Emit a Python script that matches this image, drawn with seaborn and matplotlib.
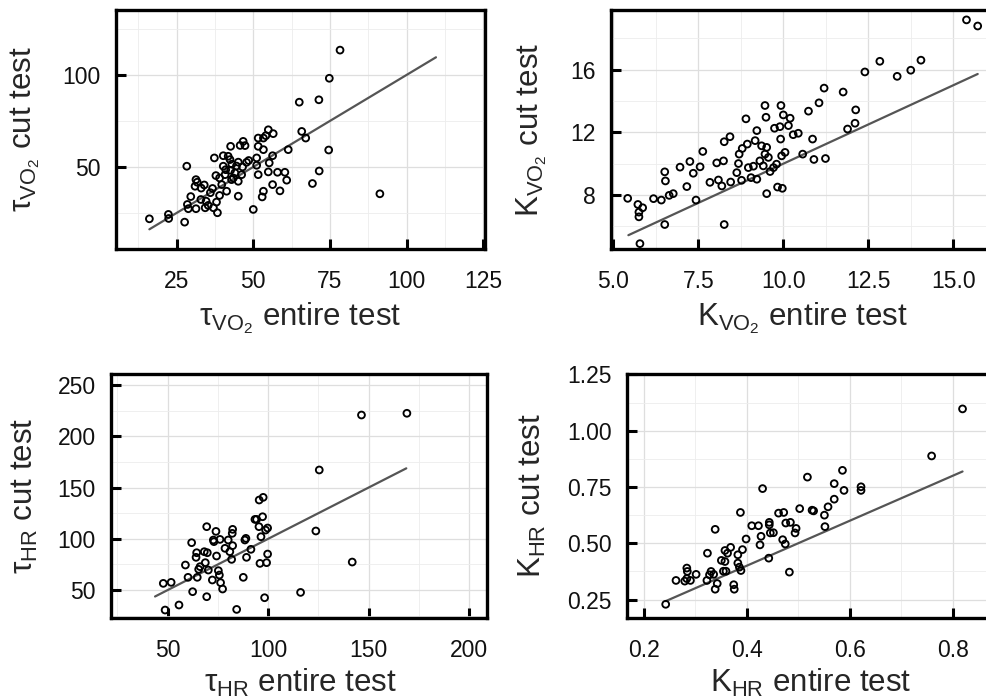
import matplotlib
matplotlib.use('Agg')
import matplotlib.pyplot as plt
import seaborn as sns
from matplotlib.ticker import MultipleLocator, FormatStrFormatter

# tau VO2 (s): entire test vs cut test
tau_vo2_entire = [16.1, 22.3, 22.4, 27.6, 28.3, 28.5, 28.8, 29.6, 31.3, 31.3,
                  31.7, 31.0, 34.0, 32.9, 34.6, 34.3, 35.3, 37.0, 38.0, 38.3,
                  36.7, 37.3, 37.8, 39.0, 39.7, 40.2, 40.2, 40.8, 41.3, 41.8,
                  42.4, 42.6, 42.6, 42.9, 44.0, 45.1, 45.1, 45.1, 45.7, 46.2,
                  46.5, 46.7, 47.3, 47.8, 50.0, 51.1, 51.6, 51.6, 51.6, 51.1,
                  53.3, 53.3, 53.3, 52.9, 54.1, 54.9, 55.2, 54.9, 56.3, 56.5,
                  56.3, 57.9, 58.7, 60.3, 60.9, 61.4, 65.0, 65.8, 67.1, 69.3,
                  71.4, 71.5, 74.6, 74.8, 78.3, 91.3, 41.0, 43.5, 44.5, 39.0,
                  48.5, 36.0, 33.0, 43.0]
tau_vo2_cut = [21.8, 24.2, 22.0, 20.0, 50.4, 29.6, 27.3, 33.9, 27.3, 43.1,
               41.7, 39.5, 40.2, 32.3, 31.4, 27.8, 29.1, 27.8, 30.9, 25.1,
               38.3, 54.9, 45.3, 34.5, 40.4, 56.1, 50.4, 45.8, 36.8, 55.8,
               54.0, 61.2, 48.2, 43.1, 46.8, 52.6, 34.1, 42.2, 61.7, 45.8,
               50.0, 63.9, 61.6, 52.5, 26.9, 54.9, 65.7, 61.2, 45.8, 50.9,
               59.4, 65.7, 36.8, 33.7, 67.0, 70.2, 52.2, 47.3, 56.1, 68.1,
               40.4, 47.1, 37.0, 47.1, 42.8, 59.4, 85.2, 69.3, 65.7, 41.0,
               86.5, 47.8, 59.2, 98.2, 113.5, 35.4, 48.5, 44.0, 50.5, 44.0,
               53.5, 36.0, 38.5, 51.5]
tau_vo2_line = [16.1, 109.6]

# K VO2: entire test vs cut test
k_vo2_entire = [5.42, 5.72, 5.75, 5.86, 5.75, 5.78, 6.18, 6.41, 6.51, 6.53,
                6.51, 6.64, 6.76, 6.96, 7.16, 7.25, 7.35, 7.43, 7.55, 7.63,
                7.84, 8.04, 8.09, 8.19, 8.24, 8.26, 8.26, 8.43, 8.45, 8.63,
                8.68, 8.70, 8.77, 8.79, 8.90, 8.94, 8.97, 9.05, 9.12, 9.17,
                9.22, 9.22, 9.31, 9.36, 9.41, 9.46, 9.49, 9.46, 9.51, 9.51,
                9.56, 9.61, 9.71, 9.74, 9.80, 9.83, 9.90, 9.93, 9.92, 9.97,
                9.95, 10.00, 10.05, 10.15, 10.20, 10.29, 10.44, 10.57, 10.74, 10.86,
                10.90, 11.05, 11.20, 11.24, 11.76, 11.89, 12.11, 12.13, 12.40, 12.84,
                13.35, 13.75, 14.05, 15.39, 15.72]
k_vo2_cut = [7.79, 7.40, 6.91, 7.19, 6.61, 4.90, 7.77, 7.68, 6.12, 8.90,
             9.48, 7.98, 8.09, 9.78, 8.54, 10.14, 9.39, 7.68, 9.80, 10.78,
             8.81, 10.05, 8.96, 8.58, 10.18, 6.12, 11.40, 11.72, 8.83, 9.43,
             10.01, 10.61, 8.94, 10.97, 12.86, 11.25, 9.75, 9.11, 9.84, 11.47,
             12.11, 9.01, 10.18, 11.14, 9.86, 13.71, 12.96, 10.61, 11.04, 8.09,
             10.40, 9.50, 9.75, 12.26, 9.97, 8.51, 12.36, 13.71, 11.57, 8.43,
             10.50, 13.11, 10.72, 12.43, 12.90, 11.85, 11.94, 10.61, 13.35, 11.57,
             10.27, 13.88, 14.82, 10.33, 14.57, 12.21, 12.58, 13.43, 15.85, 16.53,
             15.57, 15.96, 16.60, 19.17, 18.78]
k_vo2_line = [5.44, 15.72]

# tau HR (s): entire test vs cut test
tau_hr_entire = [47.8, 51.7, 48.7, 55.6, 58.8, 60.1, 62.4, 61.9, 64.1, 64.4,
                 64.7, 65.4, 66.1, 68.2, 68.7, 69.4, 69.7, 70.2, 69.4, 72.2,
                 72.7, 73.0, 74.0, 74.3, 75.2, 75.7, 76.0, 76.3, 77.3, 78.5,
                 80.1, 80.9, 81.8, 82.3, 82.1, 82.3, 84.3, 87.6, 88.4, 88.9,
                 89.2, 91.4, 93.4, 94.2, 95.4, 95.5, 96.4, 95.9, 97.2, 97.5,
                 98.2, 98.7, 99.2, 99.7, 99.7, 116.1, 123.7, 125.4, 141.8, 146.4,
                 169.0]
tau_hr_cut = [56.5, 57.5, 30.5, 35.4, 74.4, 62.4, 48.4, 96.2, 81.9, 86.4,
              62.4, 70.2, 72.8, 87.4, 76.7, 111.8, 86.4, 69.5, 43.5, 59.8,
              98.8, 97.2, 107.2, 83.2, 68.9, 64.6, 99.4, 57.2, 51.0, 90.7,
              98.8, 87.4, 79.9, 93.3, 105.3, 109.2, 31.1, 62.4, 98.8, 100.4,
              81.9, 89.7, 118.9, 118.9, 111.8, 137.8, 102.0, 76.0, 121.5, 140.4,
              42.5, 108.5, 76.7, 110.5, 85.1, 47.7, 107.6, 167.1, 77.3, 220.7,
              222.4]
tau_hr_line = [43.7, 168.7]

# K HR: entire test vs cut test
k_hr_entire = [0.243, 0.263, 0.280, 0.284, 0.285, 0.284, 0.291, 0.302, 0.323, 0.324,
               0.328, 0.331, 0.336, 0.339, 0.339, 0.343, 0.351, 0.355, 0.358, 0.358,
               0.360, 0.363, 0.369, 0.375, 0.376, 0.383, 0.383, 0.386, 0.388, 0.389,
               0.392, 0.399, 0.410, 0.423, 0.426, 0.428, 0.431, 0.443, 0.444, 0.444,
               0.446, 0.452, 0.462, 0.470, 0.472, 0.475, 0.476, 0.483, 0.485, 0.494,
               0.496, 0.503, 0.518, 0.527, 0.530, 0.551, 0.552, 0.558, 0.570, 0.570,
               0.586, 0.589, 0.622, 0.622, 0.759, 0.819]
k_hr_cut = [0.229, 0.335, 0.332, 0.390, 0.375, 0.343, 0.335, 0.362, 0.335, 0.456,
            0.360, 0.375, 0.362, 0.296, 0.562, 0.321, 0.424, 0.376, 0.468, 0.419,
            0.376, 0.456, 0.482, 0.316, 0.296, 0.449, 0.412, 0.394, 0.637, 0.379,
            0.472, 0.519, 0.578, 0.578, 0.493, 0.531, 0.743, 0.434, 0.593, 0.582,
            0.546, 0.547, 0.634, 0.516, 0.637, 0.497, 0.590, 0.372, 0.593, 0.546,
            0.566, 0.654, 0.794, 0.647, 0.644, 0.625, 0.574, 0.662, 0.696, 0.765,
            0.824, 0.735, 0.751, 0.735, 0.888, 1.097]
k_hr_line = [0.243, 0.819]

sns.set_style('white')
plt.rcParams['font.family'] = ['Liberation Sans', 'DejaVu Sans']
plt.rcParams['mathtext.fontset'] = 'custom'
plt.rcParams['mathtext.rm'] = 'Liberation Sans'

fig = plt.figure(figsize=(9.87, 7.0), dpi=100)

# panel settings: data, labels, axes rect (fig fraction), limits, tick steps, formats, label positions
panels = [
    dict(x=tau_vo2_entire, y=tau_vo2_cut, line=tau_vo2_line,
         xlabel='τ$_{\\mathregular{VO_2}}$ entire test', ylabel='τ$_{\\mathregular{VO_2}}$ cut test',
         rect=[0.1175, 0.6443, 0.3739, 0.3414], xlim=(5.2, 125.6), ylim=(5.4, 135.3),
         xstep=25, ystep=50, xfmt='%d', yfmt='%d', xlab=(0.5, -0.318), ylab=-0.2466),
    dict(x=k_vo2_entire, y=k_vo2_cut, line=k_vo2_line,
         xlabel='K$_{\\mathregular{VO_2}}$ entire test', ylabel='K$_{\\mathregular{VO_2}}$ cut test',
         rect=[0.6191, 0.6443, 0.3911, 0.3414], xlim=(4.93, 16.29), ylim=(4.56, 19.8),
         xstep=2.5, ystep=4, xfmt='%.1f', yfmt='%d', xlab=(0.495, -0.318), ylab=-0.2047),
    dict(x=tau_hr_entire, y=tau_hr_cut, line=tau_hr_line,
         xlabel='τ$_{\\mathregular{HR}}$ entire test', ylabel='τ$_{\\mathregular{HR}}$ cut test',
         rect=[0.1125, 0.1171, 0.3810, 0.3486], xlim=(21.8, 208.9), ylim=(22.7, 260.7),
         xstep=50, ystep=50, xfmt='%d', yfmt='%d', xlab=(0.503, -0.303), ylab=-0.2287),
    dict(x=k_hr_entire, y=k_hr_cut, line=k_hr_line,
         xlabel='K$_{\\mathregular{HR}}$ entire test', ylabel='K$_{\\mathregular{HR}}$ cut test',
         rect=[0.6353, 0.1171, 0.3749, 0.3486], xlim=(0.168, 0.886), ylim=(0.168, 1.252),
         xstep=0.2, ystep=0.25, xfmt='%.1f', yfmt='%.2f', xlab=(0.495, -0.303), ylab=-0.2568),
]

for p in panels:
    ax = fig.add_axes(p['rect'])
    sns.lineplot(x=p['line'], y=p['line'], color='#555555', linewidth=1.6, ax=ax, zorder=2)
    sns.scatterplot(x=p['x'], y=p['y'], marker='o', s=24, facecolors='none',
                    edgecolor='black', linewidth=1.35, ax=ax, zorder=3)
    ax.set_xlim(p['xlim'])
    ax.set_ylim(p['ylim'])
    ax.xaxis.set_major_locator(MultipleLocator(p['xstep']))
    ax.yaxis.set_major_locator(MultipleLocator(p['ystep']))
    ax.xaxis.set_minor_locator(MultipleLocator(p['xstep'] / 2))
    ax.yaxis.set_minor_locator(MultipleLocator(p['ystep'] / 2))
    ax.xaxis.set_major_formatter(FormatStrFormatter(p['xfmt']))
    ax.yaxis.set_major_formatter(FormatStrFormatter(p['yfmt']))
    ax.grid(True, which='major', color='#dedede', linewidth=0.9)
    ax.grid(True, which='minor', color='#ededed', linewidth=0.6)
    ax.set_axisbelow(True)
    ax.tick_params(which='major', direction='in', length=7, width=2.2, color='black',
                   bottom=True, left=True, labelsize=16.5, labelcolor='#111111')
    ax.tick_params(axis='x', which='major', pad=15)
    ax.tick_params(axis='y', which='major', pad=11)
    ax.tick_params(which='minor', length=0)
    for s in ax.spines.values():
        s.set_color('black')
        s.set_linewidth(2.4)
    ax.set_xlabel(p['xlabel'], fontsize=22.5)
    ax.set_ylabel(p['ylabel'], fontsize=22.5)
    ax.xaxis.label.set_va('baseline')
    ax.xaxis.set_label_coords(*p['xlab'])
    ax.yaxis.label.set_va('center')
    ax.yaxis.set_label_coords(p['ylab'], 0.5)

plt.savefig('out.png', dpi=100)
